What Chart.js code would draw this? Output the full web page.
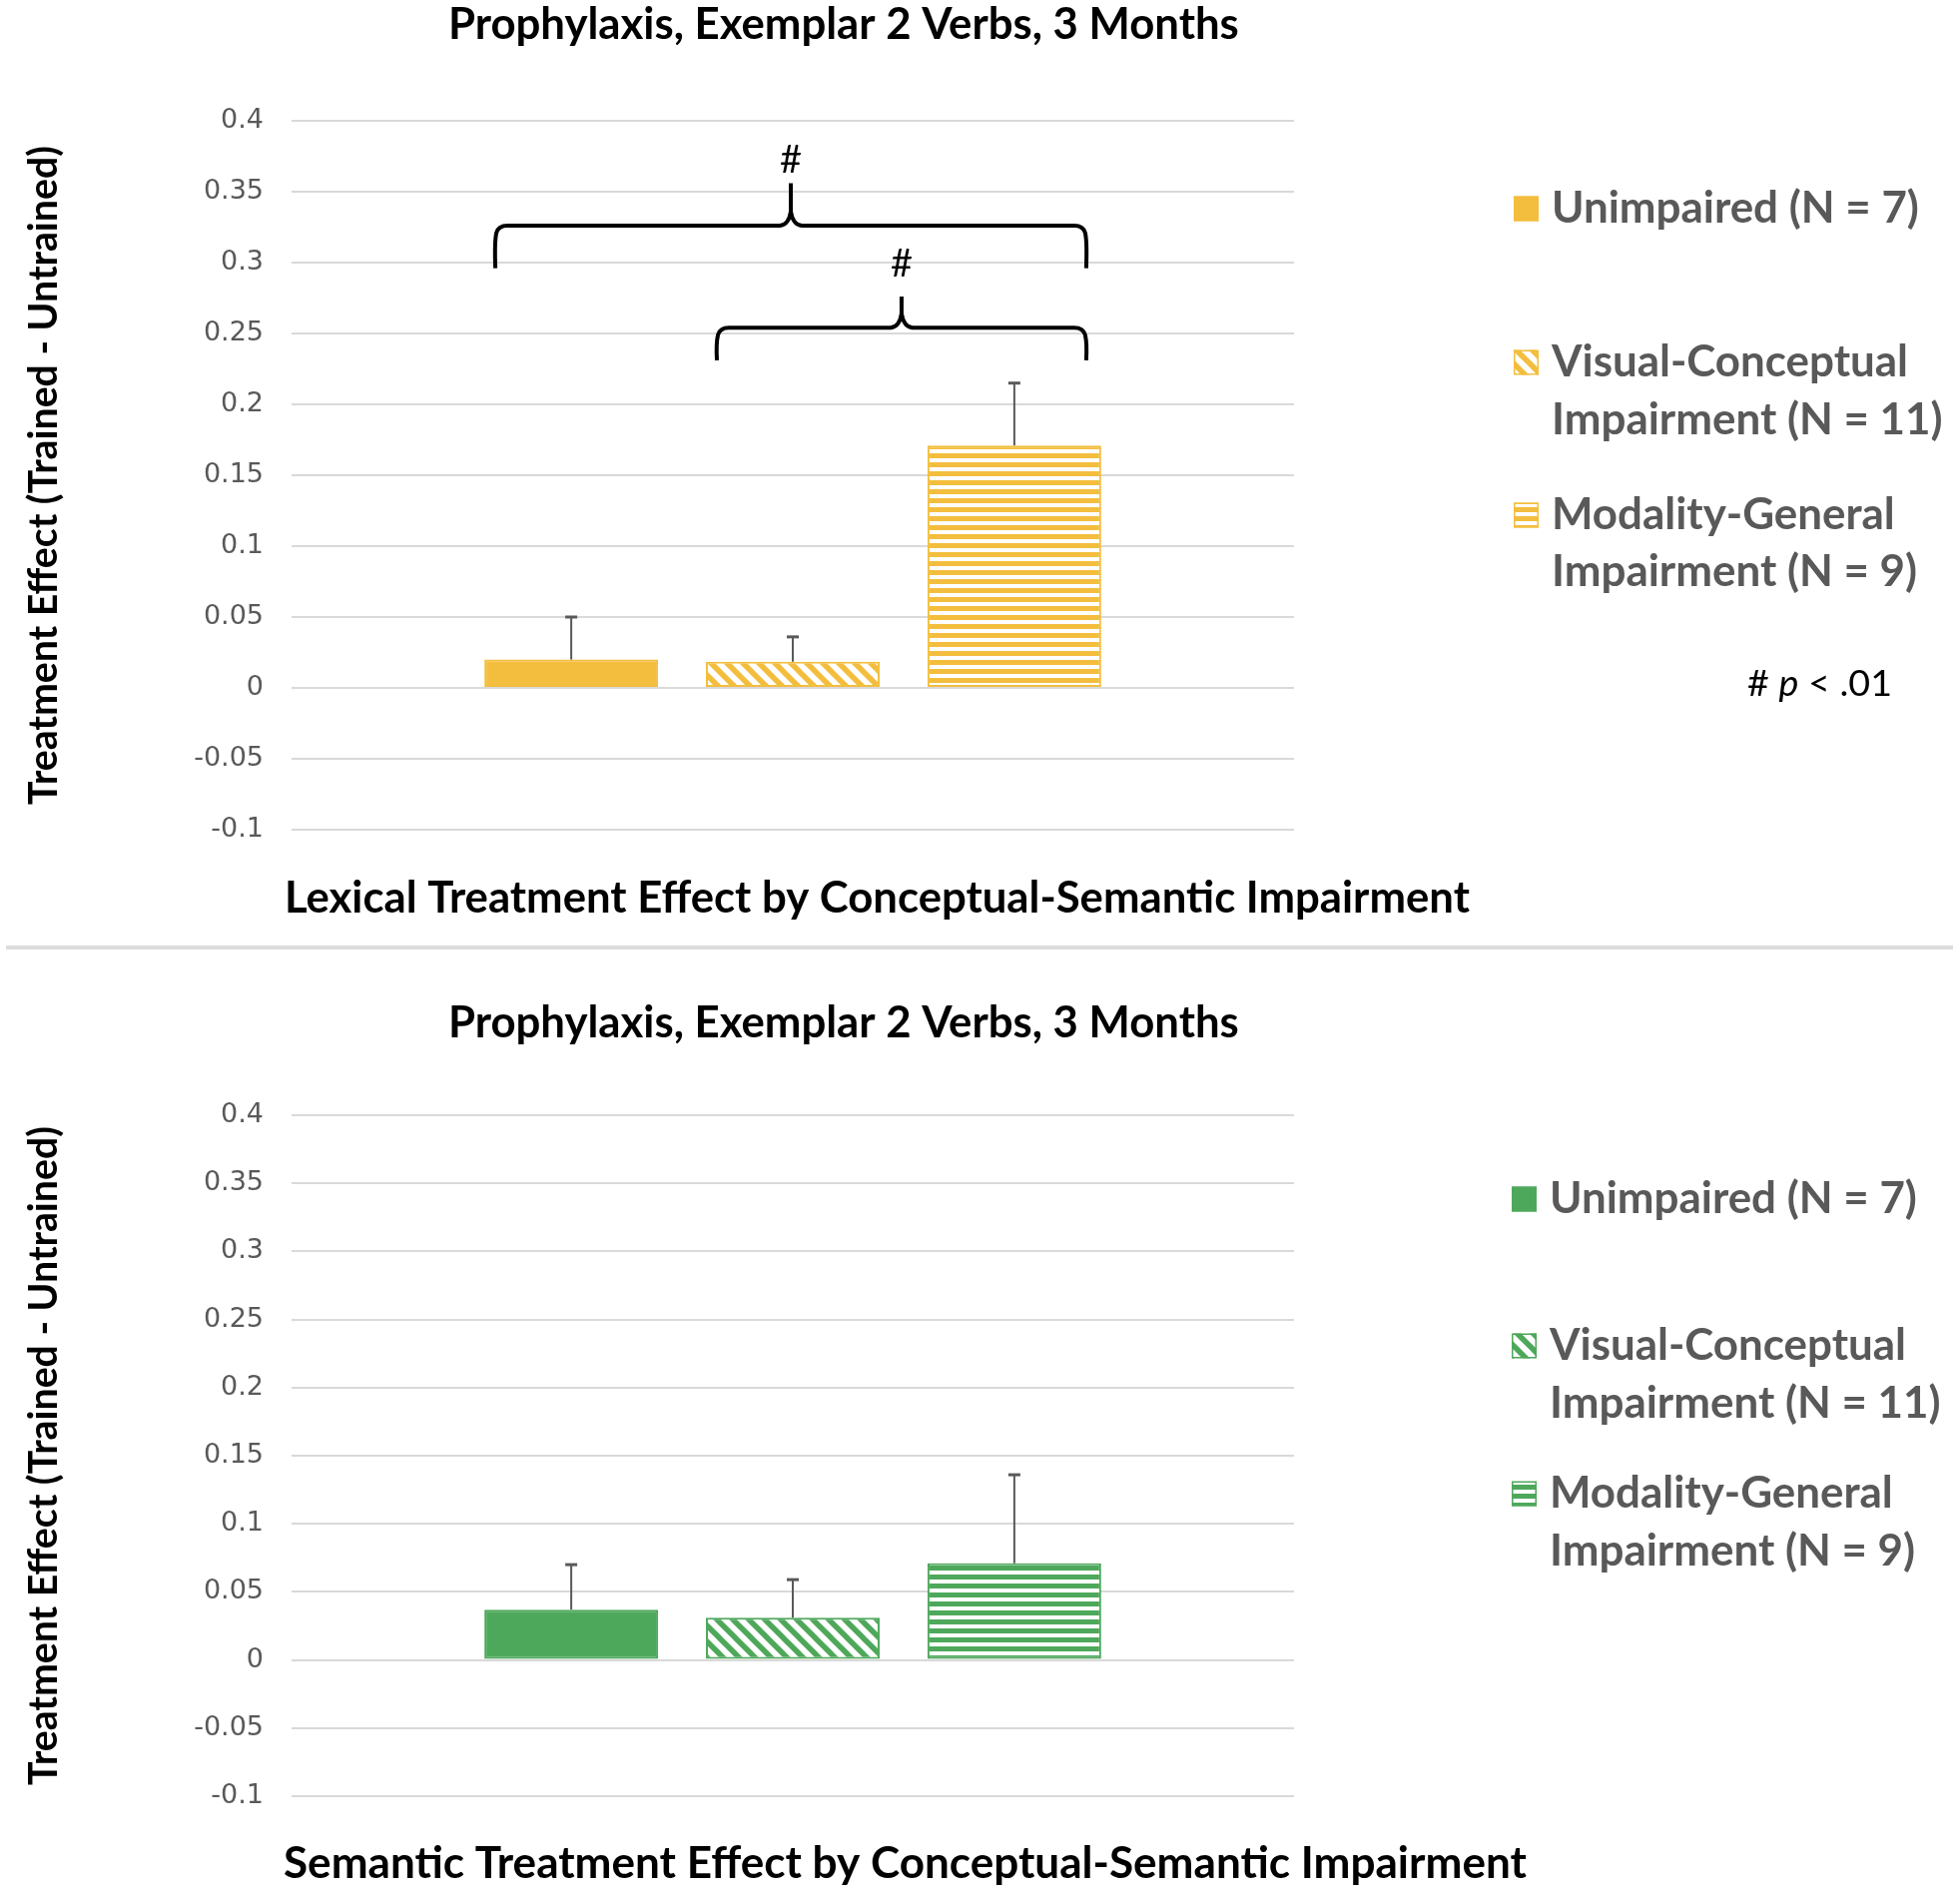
<!DOCTYPE html>
<html><head><meta charset="utf-8">
<script src="https://cdn.jsdelivr.net/npm/chart.js@4.4.1/dist/chart.umd.min.js"></script>
<style>
html,body{margin:0;padding:0;background:#fff;}
#wrap{position:relative;width:1963px;height:1905px;overflow:hidden;background:#fff;}
#c1{position:absolute;left:0;top:0;}
#c2{position:absolute;left:0;top:952px;}
#sep{position:absolute;left:6px;top:947px;width:1950px;height:4px;background:#dcdcdc;}
</style></head><body>
<div id="wrap">
<canvas id="c1" width="1963" height="948"></canvas>
<div id="sep"></div>
<canvas id="c2" width="1963" height="953"></canvas>
</div>
<script>
// ---------- data ----------
const categories = [''];
const groupLabels = [
  ['Unimpaired (N = 7)'],
  ['Visual-Conceptual', 'Impairment (N = 11)'],
  ['Modality-General', 'Impairment (N = 9)']
];
const lexicalMeans  = [0.020, 0.0185, 0.171];
const lexicalErrors = [0.030, 0.0175, 0.044];
const semanticMeans  = [0.037, 0.031, 0.071];
const semanticErrors = [0.033, 0.028, 0.065];
const yTicks = [-0.1, -0.05, 0, 0.05, 0.1, 0.15, 0.2, 0.25, 0.3, 0.35, 0.4];
const chartTitle = 'Prophylaxis, Exemplar 2 Verbs, 3 Months';
const lexicalXTitle = 'Lexical Treatment Effect by Conceptual-Semantic Impairment';
const semanticXTitle = 'Semantic Treatment Effect by Conceptual-Semantic Impairment';
const yTitle = 'Treatment Effect (Trained - Untrained)';
const lexicalSigPairs = [[0, 2], [1, 2]];
const sigMark = '#';
const sigNote = ['# ', 'p', ' < .01'];

// ---------- helpers ----------
const FAM = 'Lato';
const mctx = document.createElement('canvas').getContext('2d');
function fitSize(text, font, target) {
  mctx.font = font.replace('{s}', '100px');
  return 100 * target / mctx.measureText(text).width;
}
function diagPattern(color) {
  const c = document.createElement('canvas'); c.width = 16; c.height = 16;
  const g = c.getContext('2d');
  g.fillStyle = '#fff'; g.fillRect(0, 0, 16, 16);
  g.strokeStyle = color; g.lineWidth = 5.5;
  [-16, 0, 16].forEach(o => { g.beginPath(); g.moveTo(o - 2, -2); g.lineTo(o + 18, 18); g.stroke(); });
  return g.createPattern(c, 'repeat');
}
function horizPattern(color) {
  const c = document.createElement('canvas'); c.width = 9; c.height = 9;
  const g = c.getContext('2d');
  g.fillStyle = '#fff'; g.fillRect(0, 0, 9, 9);
  g.fillStyle = color; g.fillRect(0, 4, 9, 5);
  return g.createPattern(c, 'repeat');
}

const titleSize = fitSize(chartTitle, 'bold {s} ' + FAM, 792);
const xTitleSizeLex = fitSize(lexicalXTitle, 'bold {s} ' + FAM, 1187);
const xTitleSizeSem = fitSize(semanticXTitle, 'bold {s} ' + FAM, 1245);
const yTitleSize = fitSize(yTitle, 'bold {s} ' + FAM, 660);
const legendSize = fitSize(groupLabels[0][0], 'bold {s} ' + FAM, 368);

function makeChart(canvas, means, errs, color, cfg) {
  const fills = [color, diagPattern(color), horizPattern(color)];
  const yLH = yTitleSize * 1.2;

  const errorBars = {
    id: 'errorBars',
    afterDatasetsDraw(chart) {
      const ctx = chart.ctx, ys = chart.scales.y;
      ctx.save();
      ctx.strokeStyle = '#595959';
      means.forEach((m, i) => {
        const bar = chart.getDatasetMeta(i).data[0];
        const yTop = ys.getPixelForValue(m + errs[i]);
        ctx.lineWidth = 2;
        ctx.beginPath(); ctx.moveTo(bar.x, bar.y); ctx.lineTo(bar.x, yTop); ctx.stroke();
        ctx.lineWidth = 3;
        ctx.beginPath(); ctx.moveTo(bar.x - 6, yTop); ctx.lineTo(bar.x + 6, yTop); ctx.stroke();
      });
      ctx.restore();
    }
  };

  const extras = {
    id: 'extras',
    afterDraw(chart) {
      const ctx = chart.ctx, ys = chart.scales.y;
      ctx.save();
      // main title
      ctx.fillStyle = '#000';
      ctx.font = 'bold ' + titleSize + 'px ' + FAM;
      ctx.textAlign = 'left'; ctx.textBaseline = 'middle';
      ctx.fillText(chartTitle, 449, cfg.titleY);

      // x axis title
      ctx.font = 'bold ' + cfg.xTitleSize + 'px ' + FAM;
      ctx.fillText(cfg.xTitle, cfg.xTitleX, cfg.xTitleY);

      // legend
      ctx.font = 'bold ' + legendSize + 'px ' + FAM;
      groupLabels.forEach((lines, i) => {
        const ly = cfg.legendY[i];
        const bx = cfg.boxX, bs = 25;
        ctx.fillStyle = fills[i];
        ctx.fillRect(bx, ly[0] - bs / 2, bs, bs);
        ctx.strokeStyle = color; ctx.lineWidth = 1.5;
        ctx.strokeRect(bx + 0.75, ly[0] - bs / 2 + 0.75, bs - 1.5, bs - 1.5);
        ctx.fillStyle = '#595959';
        lines.forEach((t, k) => ctx.fillText(t, cfg.textX, ly[k]));
      });

      // significance braces
      if (cfg.sigPairs) {
        ctx.strokeStyle = '#000'; ctx.lineWidth = 4; ctx.lineJoin = 'round'; ctx.lineCap = 'butt';
        cfg.sigPairs.forEach((p, k) => {
          const b0 = chart.getDatasetMeta(p[0]).data[0];
          const b1 = chart.getDatasetMeta(p[1]).data[0];
          const L = b0.x - b0.width / 2 + 11;
          const R = b1.x + b1.width / 2 - 15;
          const lv = cfg.braces[k];
          const hy = ys.getPixelForValue(lv.h), ey = ys.getPixelForValue(lv.end), py = ys.getPixelForValue(lv.peak);
          const cx = (L + R) / 2, r = 12, r2 = 11;
          ctx.beginPath();
          ctx.moveTo(L, ey);
          ctx.quadraticCurveTo(L - 1, hy + r + 4, L + 1, hy + r * 0.6);
          ctx.quadraticCurveTo(L + 3, hy, L + r, hy);
          ctx.lineTo(cx - r2, hy);
          ctx.quadraticCurveTo(cx - 2, hy - 1, cx, hy - r2 * 1.3);
          ctx.lineTo(cx, py);
          ctx.moveTo(cx, hy - r2 * 1.3);
          ctx.quadraticCurveTo(cx + 2, hy - 1, cx + r2, hy);
          ctx.lineTo(R - r, hy);
          ctx.quadraticCurveTo(R - 3, hy, R - 1, hy + r * 0.6);
          ctx.quadraticCurveTo(R + 1, hy + r + 4, R, ey);
          ctx.stroke();
          ctx.fillStyle = '#000';
          ctx.font = '38px ' + FAM;
          ctx.textAlign = 'center';
          ctx.fillText(sigMark, cx, ys.getPixelForValue(lv.label));
          ctx.textAlign = 'left';
        });
      }

      // note
      if (cfg.note) {
        const parts = sigNote;
        const fonts = [' {s} ', 'italic {s} ', ' {s} '];
        let total = 0;
        parts.forEach((t, i) => { mctx.font = fonts[i].replace('{s}', '100px') + FAM; total += mctx.measureText(t).width; });
        const s = 100 * 145 / total;
        let x = cfg.note.x;
        ctx.fillStyle = '#000';
        parts.forEach((t, i) => {
          ctx.font = fonts[i].replace('{s}', s + 'px') + FAM;
          ctx.fillText(t, x, cfg.note.y);
          x += ctx.measureText(t).width;
        });
      }
      ctx.restore();
    }
  };

  return new Chart(canvas, {
    type: 'bar',
    data: {
      labels: categories,
      datasets: groupLabels.map((lab, i) => ({
        label: lab.join(' '),
        data: [means[i]],
        backgroundColor: fills[i],
        borderColor: color,
        borderWidth: 2,
        borderSkipped: false,
        barPercentage: 0.784,
        categoryPercentage: 0.663
      }))
    },
    options: {
      responsive: false,
      animation: false,
      layout: { padding: { left: 0, top: cfg.plotTop, right: 1963 - 1296, bottom: 0 } },
      plugins: { legend: { display: false }, title: { display: false }, tooltip: { enabled: false } },
      scales: {
        x: {
          grid: { display: false }, border: { display: false },
          ticks: { display: false },
          title: { display: false },
          afterFit(s) { s.height = cfg.xAxisHeight; }
        },
        y: {
          min: -0.1, max: 0.4,
          afterBuildTicks(s) { s.ticks = yTicks.map(v => ({ value: v })); },
          ticks: {
            color: '#595959', padding: 28,
            font: { family: 'DejaVu Sans', size: 27 },
            callback: v => String(+(+v).toFixed(2))
          },
          grid: { color: '#d9d9d9', lineWidth: 2, drawTicks: false },
          border: { display: false },
          title: {
            display: true, text: yTitle, color: '#000',
            font: { family: FAM, weight: 'bold', size: yTitleSize },
            padding: { top: 44 - yLH / 2, bottom: 0 }
          },
          afterFit(s) { s.width = 292; }
        }
      }
    },
    plugins: [errorBars, extras]
  });
}

makeChart(document.getElementById('c1'), lexicalMeans, lexicalErrors, '#F3BE3E', {
  plotTop: 121, xAxisHeight: 948 - 831,
  xTitle: lexicalXTitle, xTitleSize: xTitleSizeLex, xTitleX: 285, xTitleY: 900,
  titleY: 25, boxX: 1516, textX: 1554,
  legendY: [[209], [363, 421], [516, 573]],
  sigPairs: lexicalSigPairs,
  braces: [
    { h: 0.326, end: 0.296, peak: 0.356, label: 0.372 },
    { h: 0.254, end: 0.231, peak: 0.276, label: 0.299 }
  ],
  note: { x: 1750, y: 685 }
});

makeChart(document.getElementById('c2'), semanticMeans, semanticErrors, '#4EA85B', {
  plotTop: 1117 - 952, xAxisHeight: 953 - (1799 - 952),
  xTitle: semanticXTitle, xTitleSize: xTitleSizeSem, xTitleX: 284, xTitleY: 1867 - 952,
  titleY: 73, boxX: 1514, textX: 1552,
  legendY: [[249], [396, 454], [544, 602]]
});
</script>
</body></html>
